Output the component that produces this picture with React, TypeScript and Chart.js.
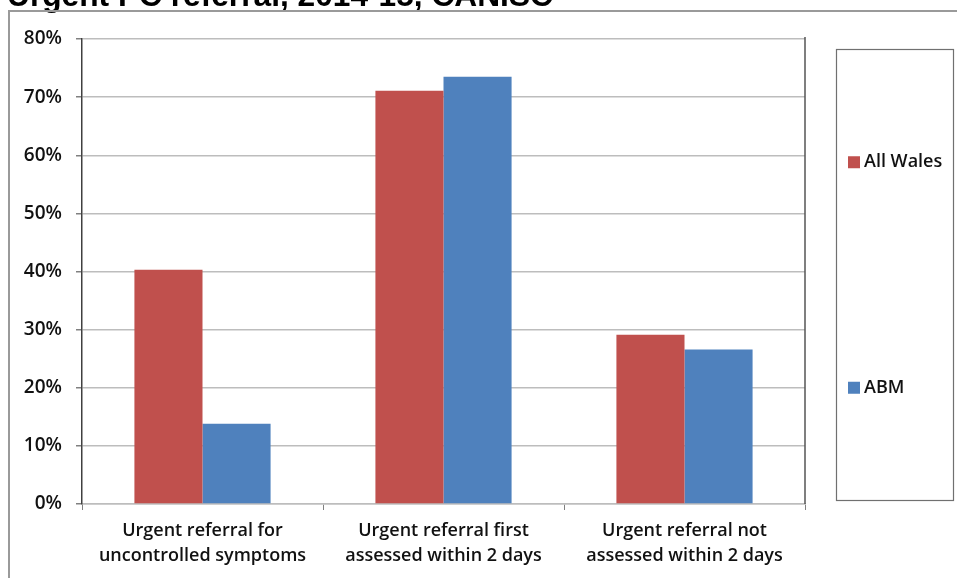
import React, { useEffect, useRef } from "react";
import { Chart, registerables } from "chart.js";

Chart.register(...registerables);

const TITLE = "Urgent PC referral, 2014-15, CANISC";

const categories: string[][] = [
  ["Urgent referral for", "uncontrolled symptoms"],
  ["Urgent referral first", "assessed within 2 days"],
  ["Urgent referral not", "assessed within 2 days"],
];

const seriesNames = ["All Wales", "ABM"];
const allWales = [40.3, 71.1, 29.1];
const abm = [13.8, 73.5, 26.6];
const seriesColors = ["#C0504D", "#4F81BD"];

const yMin = 0;
const yMax = 80;
const yStep = 10;

const FONT = "'Open Sans', Lato, sans-serif";

// Frame, title, plot-area right edge and boxed legend
const decorations = {
  id: "decorations",
  beforeDraw(chart: any) {
    const ctx = chart.ctx as CanvasRenderingContext2D;
    ctx.save();
    ctx.fillStyle = "#ffffff";
    ctx.fillRect(0, 0, chart.width, chart.height);

    // title, partly above the top edge of the page
    ctx.fillStyle = "#000000";
    ctx.font = "bold 31.7px 'Liberation Sans', Arial, sans-serif";
    ctx.textAlign = "left";
    ctx.textBaseline = "alphabetic";
    ctx.fillText(TITLE, 7, 6);

    // outer chart frame
    ctx.strokeStyle = "#9a9a9a";
    ctx.lineWidth = 2;
    ctx.beginPath();
    ctx.moveTo(9, chart.height);
    ctx.lineTo(9, 11);
    ctx.lineTo(chart.width, 11);
    ctx.stroke();
    ctx.restore();
  },
  afterDraw(chart: any) {
    const ctx = chart.ctx as CanvasRenderingContext2D;
    const area = chart.chartArea;
    ctx.save();

    // right edge of the plot area
    ctx.strokeStyle = "#555555";
    ctx.lineWidth = 1.5;
    ctx.beginPath();
    ctx.moveTo(area.right, area.top - 2);
    ctx.lineTo(area.right, area.bottom);
    ctx.stroke();

    // legend box
    const box = { left: 836.5, top: 49.5, right: 953.5, bottom: 500.5 };
    ctx.strokeStyle = "#707070";
    ctx.lineWidth = 1.2;
    ctx.strokeRect(box.left, box.top, box.right - box.left, box.bottom - box.top);

    const ds = chart.data.datasets;
    const h = box.bottom - box.top;
    ctx.font = `600 18px ${FONT}`;
    ctx.textAlign = "left";
    ctx.textBaseline = "middle";
    ds.forEach((d: any, i: number) => {
      const cy = box.top + (h * (2 * i + 1)) / (2 * ds.length);
      ctx.fillStyle = d.backgroundColor;
      ctx.fillRect(848, cy - 6, 12, 12);
      ctx.fillStyle = "#111111";
      ctx.fillText(d.label, 864, cy);
    });
    ctx.restore();
  },
};

export default function App() {
  const canvasRef = useRef<HTMLCanvasElement | null>(null);

  useEffect(() => {
    if (!canvasRef.current) return;
    const chart = new Chart(canvasRef.current, {
      type: "bar",
      data: {
        labels: categories,
        datasets: [
          {
            label: seriesNames[0],
            data: allWales,
            backgroundColor: seriesColors[0],
            categoryPercentage: 0.565,
            barPercentage: 1,
          },
          {
            label: seriesNames[1],
            data: abm,
            backgroundColor: seriesColors[1],
            categoryPercentage: 0.565,
            barPercentage: 1,
          },
        ],
      },
      options: {
        animation: false,
        responsive: false,
        maintainAspectRatio: false,
        layout: { padding: { left: 0, top: 39, right: 152, bottom: 0 } },
        plugins: {
          legend: { display: false },
          tooltip: { enabled: false },
          title: { display: false },
        },
        scales: {
          x: {
            grid: {
              display: true,
              drawOnChartArea: false,
              drawTicks: true,
              tickLength: 6,
              tickColor: "#808080",
              offset: true,
            },
            border: { display: true, color: "#bdbdbd", width: 1.5 },
            ticks: {
              color: "#111111",
              padding: 8,
              maxRotation: 0,
              autoSkip: false,
              font: { family: FONT, size: 18, weight: "600", lineHeight: "25px" },
            },
            afterFit(scale: any) {
              scale.height = 74;
            },
          },
          y: {
            min: yMin,
            max: yMax,
            grid: {
              color: "#bdbdbd",
              lineWidth: 1.5,
              tickLength: 6,
              tickColor: "#808080",
            },
            border: { display: true, color: "#404040", width: 1.5 },
            ticks: {
              stepSize: yStep,
              color: "#111111",
              padding: 14,
              font: { family: FONT, size: 19, weight: "600" },
              callback: (v: any) => `${v}%`,
            },
            afterFit(scale: any) {
              scale.width = 82;
            },
          },
        },
      },
      plugins: [decorations],
    });
    return () => chart.destroy();
  }, []);

  return (
    <div style={{ position: "absolute", left: 0, top: 0, width: 957, height: 578 }}>
      <canvas ref={canvasRef} width={957} height={578} style={{ display: "block" }} />
    </div>
  );
}
